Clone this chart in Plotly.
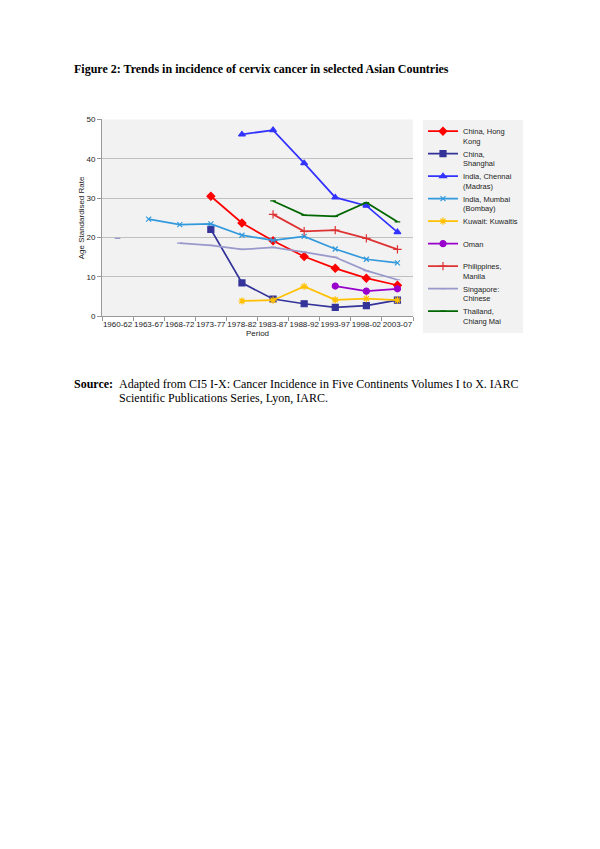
import plotly.graph_objects as go

periods = ["1960-62", "1963-67", "1968-72", "1973-77", "1978-82",
           "1983-87", "1988-92", "1993-97", "1998-02", "2003-07"]

hong_kong   = [None, None, None, 30.5, 23.7, 19.2, 15.2, 12.2, 9.7, 7.9]
shanghai    = [None, None, None, 22.1, 8.5, 4.4, 3.2, 2.3, 2.7, 4.1]
chennai     = [None, None, None, None, 46.2, 47.3, 38.9, 30.2, 28.1, 21.4]
mumbai      = [None, 24.7, 23.3, 23.5, 20.6, 19.3, 20.3, 17.1, 14.5, 13.6]
kuwait      = [None, None, None, None, 3.9, 4.1, 7.6, 4.2, 4.5, 4.1]
oman        = [None, None, None, None, None, None, None, 7.7, 6.4, 7.0]
philippines = [None, None, None, None, None, 25.9, 21.6, 21.9, 19.8, 17.0]
singapore   = [19.8, None, 18.6, 18.0, 17.0, 17.5, 16.3, 15.0, 11.6, 9.3]
thailand    = [None, None, None, None, None, 29.3, 25.7, 25.4, 28.9, 24.0]

series = [
    ("China, Hong<br>Kong", hong_kong, "#FF0000", "diamond", 6),
    ("China,<br>Shanghai", shanghai, "#333399", "square", 6),
    ("India, Chennai<br>(Madras)", chennai, "#3333FF", "triangle-up", 6),
    ("India, Mumbai<br>(Bombay)", mumbai, "#3399DD", "x-thin-open", 5),
    ("Kuwait: Kuwaitis<br> ", kuwait, "#FFC000", "asterisk-open", 6),
    ("Oman<br> ", oman, "#9900CC", "circle", 6),
    ("Philippines,<br>Manila", philippines, "#DD3333", "cross-thin-open", 6),
    ("Singapore:<br>Chinese", singapore, "#9999CC", "line-ew-open", 4),
    ("Thailand,<br>Chiang Mai", thailand, "#006600", "line-ew-open", 4),
]

fig = go.Figure()
for name, vals, color, sym, size in series:
    fig.add_trace(go.Scatter(
        x=periods, y=vals, name=name, mode="lines+markers",
        line=dict(color=color, width=1.75),
        marker=dict(symbol=sym, size=size, color=color,
                    line=dict(color=color, width=1.2)),
        connectgaps=False,
    ))

font = "Liberation Sans, Arial, sans-serif"
fig.update_layout(
    width=600, height=849,
    margin=dict(l=0, r=0, t=0, b=0),
    paper_bgcolor="white",
    plot_bgcolor="#F2F2F2",
    font=dict(family=font, size=8, color="#333333"),
    showlegend=True,
    legend=dict(
        x=423 / 600, y=(849 - 117) / 849, xanchor="left", yanchor="top",
        bgcolor="#F2F2F2", font=dict(family=font, size=7.5, color="#222222"),
        valign="top", itemwidth=30, tracegroupgap=0,
    ),
    xaxis=dict(
        domain=[102 / 600, 413 / 600],
        type="category", range=[-0.5, 9.5],
        tickson="boundaries", ticks="outside", ticklen=4, tickcolor="#999999",
        tickangle=0,
        showline=True, linecolor="#999999", linewidth=1,
        showgrid=False, tickfont=dict(size=8, color="#222222"),
        title=dict(text="Period", font=dict(size=8, color="#222222"), standoff=2),
    ),
    yaxis=dict(
        domain=[533.3 / 849, 732.3 / 849],
        range=[0, 50], dtick=10,
        ticks="outside", ticklen=4, tickcolor="#999999",
        showline=True, linecolor="#999999", linewidth=1,
        showgrid=True, gridcolor="#C0C0C0", gridwidth=1,
        zeroline=False, tickfont=dict(size=8, color="#222222"),
        title=dict(text="Age Standardised Rate", font=dict(size=8, color="#222222"), standoff=0),
    ),
)

serif = "Liberation Serif, Times New Roman, serif"
fig.add_annotation(
    x=72 / 600, y=(849 - 66) / 849, xref="paper", yref="paper",
    xanchor="left", yanchor="middle", showarrow=False,
    text="<b>Figure 2: Trends in incidence of cervix cancer in selected Asian Countries</b>",
    font=dict(family=serif, size=12, color="black"),
)
fig.add_annotation(
    x=72 / 600, y=(849 - 384) / 849, xref="paper", yref="paper",
    xanchor="left", yanchor="middle", showarrow=False,
    text="<b>Source:</b>",
    font=dict(family=serif, size=12, color="black"),
)
fig.add_annotation(
    x=117 / 600, y=(849 - 384) / 849, xref="paper", yref="paper",
    xanchor="left", yanchor="middle", showarrow=False,
    text="Adapted from CI5 I-X: Cancer Incidence in Five Continents Volumes I to X. IARC",
    font=dict(family=serif, size=12, color="black"),
)
fig.add_annotation(
    x=117 / 600, y=(849 - 398) / 849, xref="paper", yref="paper",
    xanchor="left", yanchor="middle", showarrow=False,
    text="Scientific Publications Series, Lyon, IARC.",
    font=dict(family=serif, size=12, color="black"),
)

fig.write_html("out.html", config={"displayModeBar": False},
               post_script="document.body.style.margin='0px';")
